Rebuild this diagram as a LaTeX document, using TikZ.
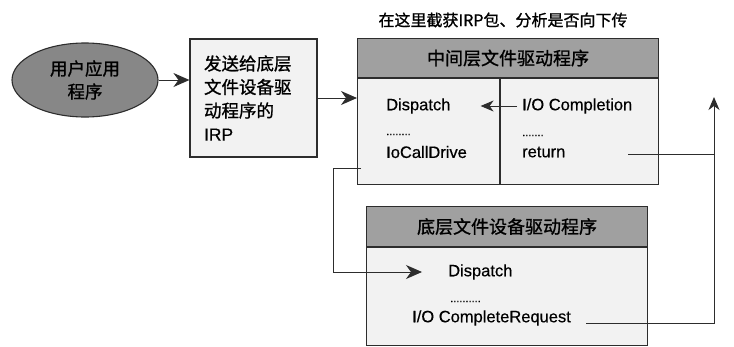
\documentclass[tikz,border=0pt]{standalone}
\usepackage{fontspec}
\setmainfont[FakeBold=0.4]{Liberation Sans}
\newfontfamily\cjk[FakeBold=1.0]{Noto Sans CJK SC}
\usepackage{tikz}
\usetikzlibrary{arrows.meta,shapes.geometric,positioning}
\definecolor{framegray}{RGB}{45,45,45}
\definecolor{headgray}{RGB}{160,160,160}
\definecolor{bodygray}{RGB}{242,242,242}
\definecolor{ovalgray}{RGB}{135,135,135}

\begin{document}
\begin{tikzpicture}[x=1pt,y=-1pt,
    frame/.style={draw=framegray, line width=1.1pt},
    headbox/.style={frame, fill=headgray, inner sep=0, anchor=north west,
      font=\cjk\fontsize{18}{20}\selectfont},
    bodybox/.style={frame, fill=bodygray, inner sep=0, anchor=north west},
    code/.style={inner sep=0, anchor=west, font=\fontsize{16.5}{18}\selectfont},
    dots/.style={inner sep=0, anchor=base west, font=\fontsize{11}{12}\selectfont},
    conn/.style={draw=framegray, line width=1pt},
    bigtip/.style={conn, -{Stealth[length=16pt, width=14pt, inset=5pt]}},
    smalltip/.style={conn, -{Stealth[length=13pt, width=11pt, inset=4pt]}}]
  \useasboundingbox (0,0) rectangle (734,346);

  % user program and IRP box
  \node[ellipse, frame, fill=ovalgray, minimum width=146, minimum height=74,
        inner sep=0, align=center, font=\cjk\fontsize{17.5}{23}\selectfont]
        (app) at (85,80) {用户应用\\程序};
  \node[frame, fill=bodygray, minimum width=127, minimum height=118,
        inner xsep=14, inner ysep=0, text width=99, align=left,
        font=\cjk\fontsize{17.5}{23.5}\selectfont]
        (irp) at (253.5,98) {发送给底层\\文件设备驱\\动程序的\\\normalfont IRP};

  % middle layer driver
  \node[inner sep=0, font=\cjk\fontsize{16}{18}\selectfont] (note) at (503,20)
        {在这里截获IRP包、分析是否向下传};
  \node[headbox, minimum width=301, minimum height=39] (midhead) at (357,38)
        {中间层文件驱动程序};
  \node[bodybox, minimum width=301, minimum height=106] (midbody) at (midhead.south west) {};
  \draw[frame] (midbody.north west) ++(143,0) -- ++(0,106);

  \node[code] (dispA) at (386,106) {Dispatch};
  \node[dots] (dotsA) at (386,135) {........};
  \node[code] (callA) at (386,152) {IoCallDrive};
  \node[code] (compl) at (522,106) {I/O Completion};
  \node[dots] (dotsB) at (522,136) {.......};
  \node[code] (ret) at (522,152) {return};

  % lower layer driver
  \node[headbox, minimum width=281, minimum height=40] (lowhead) at (366,206)
        {底层文件设备驱动程序};
  \node[bodybox, minimum width=281, minimum height=98] (lowbody) at (lowhead.south west) {};

  \node[code] (dispB) at (448,272) {Dispatch};
  \node[dots] (dotsC) at (450,302) {..........};
  \node[code] (compReq) at (412,318) {I/O CompleteRequest};

  % connectors
  \coordinate (callout) at (361,168);
  \coordinate (retout) at (628,154);
  \coordinate (rise) at (714,97);

  \draw[bigtip] (app.east) -- (app.east -| irp.west);
  \draw[bigtip] (irp.east) -- (irp.east -| midbody.west);
  \draw[smalltip] ([xshift=-5]compl.west) -- ([xshift=30]dispA.east);
  \draw[bigtip] (callout) -- ++(-28,0) |- ([xshift=-26]dispB.west);
  \draw[conn] (retout) -- (retout -| rise);
  \draw[smalltip] ([xshift=15,yshift=-5]compReq.east) -| (rise);
\end{tikzpicture}
\end{document}
